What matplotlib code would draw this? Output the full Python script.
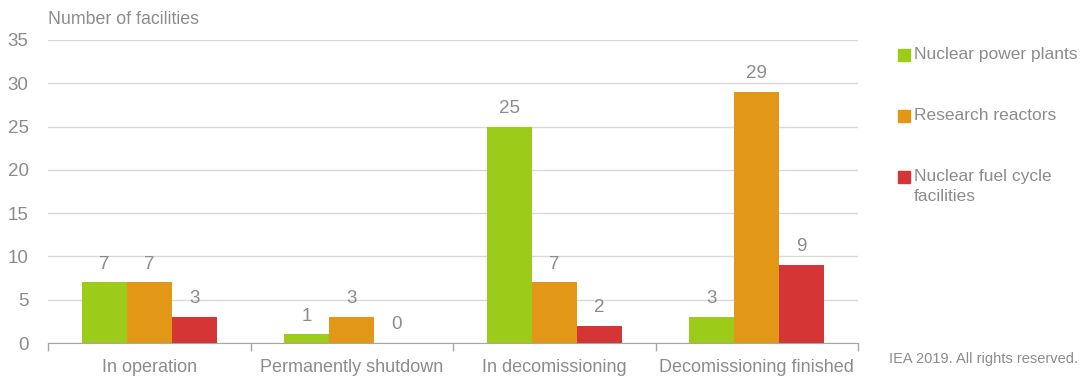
import matplotlib
matplotlib.use('Agg')
import matplotlib.pyplot as plt
import numpy as np

categories = ['In operation', 'Permanently shutdown', 'In decomissioning', 'Decomissioning finished']
series_names = ['Nuclear power plants', 'Research reactors', 'Nuclear fuel cycle\nfacilities']
power_plants = [7, 1, 25, 3]
research_reactors = [7, 3, 7, 29]
fuel_cycle = [3, 0, 2, 9]

colors = ['#9dcb19', '#e29816', '#d63535']
text_grey = '#8c8c8c'

plt.rcParams['font.family'] = ['Liberation Sans', 'DejaVu Sans']

fig = plt.figure(figsize=(10.82, 3.77), dpi=100)
ax = fig.add_axes([48 / 1082, 1 - 343 / 377, 810 / 1082, 303 / 377])

x = np.arange(len(categories))
width = 0.222
all_series = [power_plants, research_reactors, fuel_cycle]
for i, (vals, name, col) in enumerate(zip(all_series, series_names, colors)):
    bars = ax.bar(x + (i - 1) * width, vals, width, color=col, label=name, zorder=3)
    ax.bar_label(bars, padding=7, fontsize=13.5, color=text_grey)

ax.set_xlim(-0.5, len(categories) - 0.5)
ax.set_ylim(0, 35)
ax.set_yticks(range(0, 36, 5))
ax.yaxis.grid(True, color='#d9d9d9', linewidth=1, zorder=0)
ax.tick_params(axis='y', length=0, labelsize=13.5, labelcolor=text_grey, pad=14)

# group separators as major ticks, names as minor ticks
ax.set_xticks(np.arange(-0.5, len(categories), 1.0))
ax.set_xticklabels([])
ax.set_xticks(x, minor=True)
ax.set_xticklabels(categories, minor=True)
ax.tick_params(axis='x', which='major', length=6, color='#a6a6a6', width=1)
ax.tick_params(axis='x', which='minor', length=0, labelsize=13, labelcolor=text_grey, pad=11.5)

for side in ['top', 'right', 'left']:
    ax.spines[side].set_visible(False)
ax.spines['bottom'].set_color('#a6a6a6')

fig.text(48 / 1082, 1 - 20 / 377, 'Number of facilities', fontsize=12.8, color=text_grey, va='center', ha='left')

# legend drawn by hand so the square sits level with the first text line
leg_y = [55, 116, 177]
for name, col, yy in zip(series_names, colors, leg_y):
    fig.patches.append(plt.Rectangle((898 / 1082, 1 - (yy + 6) / 377), 12 / 1082, 12 / 377,
                                     transform=fig.transFigure, color=col, figure=fig))
    fig.text(914 / 1082, 1 - (yy - 8) / 377, name, fontsize=12.5, color=text_grey,
             ha='left', va='top', linespacing=1.4)

fig.text(1078 / 1082, 1 - 359 / 377, 'IEA 2019. All rights reserved.', fontsize=10.5,
         color=text_grey, ha='right', va='center')

fig.savefig('out.png', dpi=100)
